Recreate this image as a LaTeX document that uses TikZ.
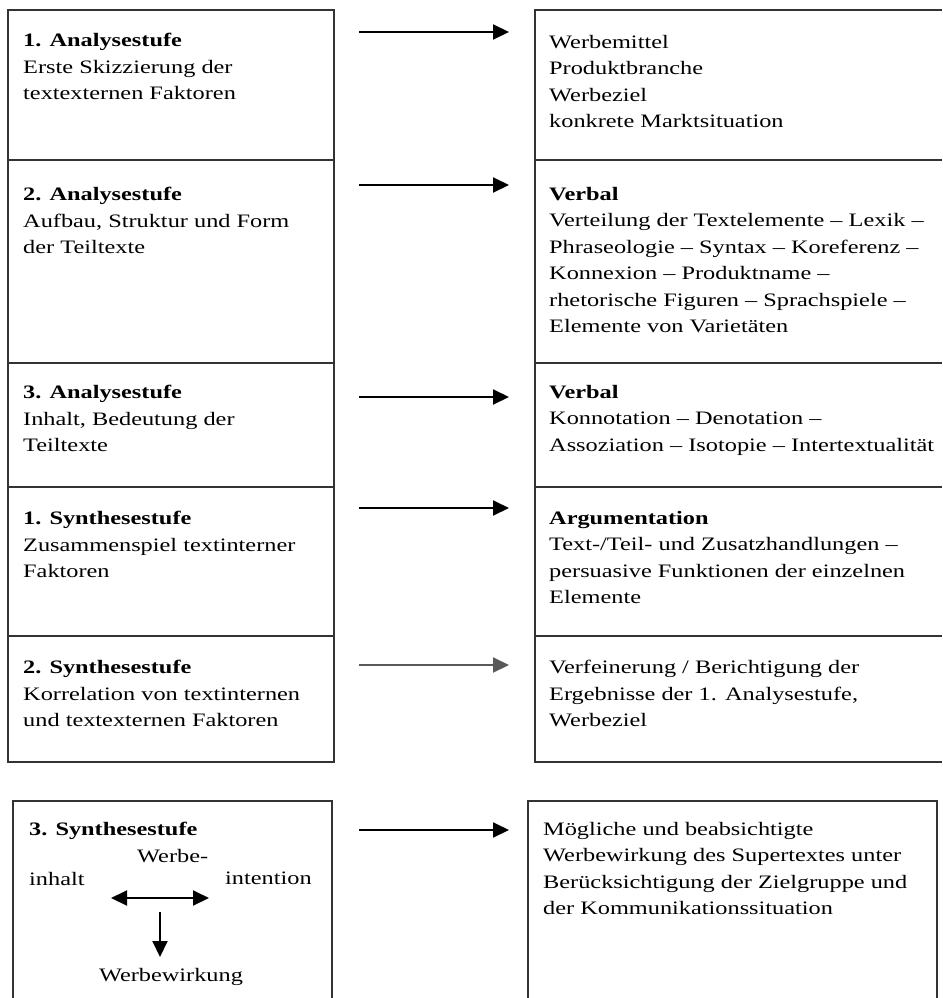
\documentclass[tikz,border=0pt]{standalone}
\usepackage{fontspec}
\setmainfont[FakeStretch=1.28]{Liberation Serif}
\usetikzlibrary{arrows.meta}

\tikzset{
  box/.style={line width=1.4pt, draw=black!80},
  txt/.style={anchor=north west, inner sep=0pt, align=left,
    font=\fontsize{19}{26.5}\selectfont},
  pfeil/.style={line width=2pt, -{Triangle[length=16pt,width=15pt]}},
}

\begin{document}
\begin{tikzpicture}[x=1pt, y=-1pt]
		\useasboundingbox (0,0) rectangle (942,998);
		
		%%%%% TABLE %%%%%
		\draw[box] (8,10) rectangle (334,762);
		\draw[box] (942,10) -- (535,10) -- (535,762) -- (942,762);
		\foreach \y in {160,363,487,636}
		{
			\draw[box] (8,\y) -- (334,\y);
			\draw[box] (535,\y) -- (942,\y);
		}
		
		%%%%% LEFT %%%%%
		\node[txt] (stufeA) at (23,33) {\textbf{1. Analysestufe}\\Erste Skizzierung der\\textexternen Faktoren};
		\node[txt] (stufeB) at (23,187) {\textbf{2. Analysestufe}\\Aufbau, Struktur und Form\\der Teiltexte};
		\node[txt] (stufeC) at (23,385) {\textbf{3. Analysestufe}\\Inhalt, Bedeutung der\\Teiltexte};
		\node[txt] (stufeD) at (23,511) {\textbf{1. Synthesestufe}\\Zusammenspiel textinterner\\Faktoren};
		\node[txt] (stufeE) at (23,660) {\textbf{2. Synthesestufe}\\Korrelation von textinternen\\und textexternen Faktoren};
		
		%%%%% RIGHT %%%%%
		\node[txt] (inhaltA) at (549,35) {Werbemittel\\Produktbranche\\Werbeziel\\konkrete Marktsituation};
		\node[txt] (inhaltB) at (549,187) {\textbf{Verbal}\\Verteilung der Textelemente -- Lexik --\\Phraseologie -- Syntax -- Koreferenz --\\Konnexion -- Produktname --\\rhetorische Figuren -- Sprachspiele --\\Elemente von Varietäten};
		\node[txt] (inhaltC) at (549,385) {\textbf{Verbal}\\Konnotation -- Denotation --\\Assoziation -- Isotopie -- Intertextualität};
		\node[txt] (inhaltD) at (549,511) {\textbf{Argumentation}\\Text-/Teil- und Zusatzhandlungen --\\persuasive Funktionen der einzelnen\\Elemente};
		\node[txt] (inhaltE) at (549,660) {Verfeinerung / Berichtigung der\\Ergebnisse der 1. Analysestufe,\\Werbeziel};
		
		%%%%% ARROWS %%%%%
		\foreach \y/\n in {32/1,185/2,397/3,508/4,665/5,830/6}
		{
			\coordinate (p\n s) at (359,\y);
			\coordinate (p\n e) at (509,\y);
		}
		\draw[pfeil] (p1s) -- (p1e);
		\draw[pfeil] (p2s) -- (p2e);
		\draw[pfeil] (p3s) -- (p3e);
		\draw[pfeil] (p4s) -- (p4e);
		\draw[pfeil, black!65] (p5s) -- (p5e);
		\draw[pfeil] (p6s) -- (p6e);
		
		%%%%% BOTTOM %%%%%
		\draw[box] (13,998) -- (13,801) -- (332,801) -- (332,998);
		\draw[box] (528,998) -- (528,801) -- (937,801) -- (937,998);
		
		\node[txt] (stufeF) at (29,822) {\textbf{3. Synthesestufe}};
		\node[txt] (werbe) at (137,849) {Werbe-};
		\node[txt] (inhalt) at (29,872) {inhalt};
		\node[txt] (intention) at (225,872) {intention};
		\node[font=\fontsize{19}{26.5}\selectfont, inner sep=0pt] (wirkung) at (171,977) {Werbewirkung};
		\coordinate (dl) at (111,898);
		\coordinate (dr) at (209,898);
		\coordinate (ds) at (160,912);
		\coordinate (de) at (160,957);
		\draw[pfeil, {Triangle[length=16pt,width=15pt]}-{Triangle[length=16pt,width=15pt]}] (dl) -- (dr);
		\draw[pfeil] (ds) -- (de);
		
		\node[txt] (inhaltF) at (543,822) {Mögliche und beabsichtigte\\Werbewirkung des Supertextes unter\\Berücksichtigung der Zielgruppe und\\der Kommunikationssituation};
		
	\end{tikzpicture}
\end{document}
